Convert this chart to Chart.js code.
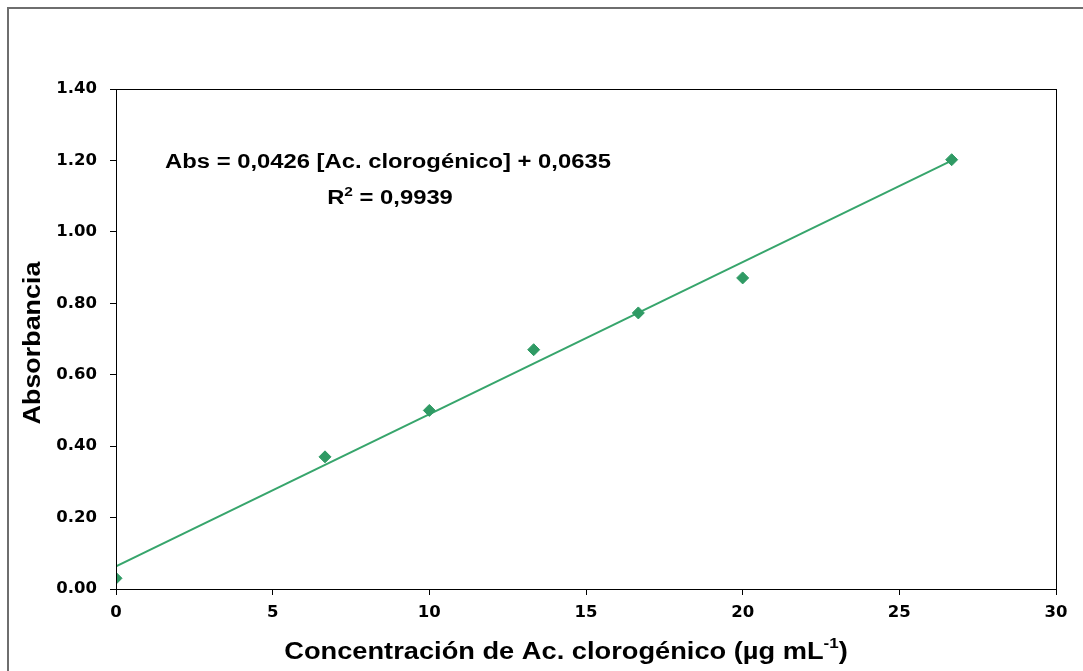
<!DOCTYPE html>
<html>
<head>
<meta charset="utf-8">
<script src="https://cdn.jsdelivr.net/npm/chart.js@4/dist/chart.umd.min.js"></script>
<style>
  html, body { margin: 0; padding: 0; background: #fff; }
  #wrap { position: relative; width: 1083px; height: 671px; }
</style>
</head>
<body>
<div id="wrap"><canvas id="c"></canvas></div>
<script>
// Calibration standards: chlorogenic acid concentration (µg/mL) vs absorbance
const concentracion = [0, 6.67, 10, 13.33, 16.67, 20, 26.67];
const absorbancia   = [0.03, 0.37, 0.50, 0.67, 0.773, 0.871, 1.202];

// Linear fit reported on the chart
const pendiente = 0.0426;
const intercepto = 0.0635;
const r2 = '0,9939';
const rangoAjuste = [0, 26.67];

const tickY = [0, 0.2, 0.4, 0.6, 0.8, 1.0, 1.2, 1.4];
const tickX = [0, 5, 10, 15, 20, 25, 30];

const verde = '#2f9a64';
const FONT = '"Liberation Sans", Arial, sans-serif';
const TICK_FONT = '"DejaVu Sans", sans-serif';

const puntos = concentracion.map((x, i) => ({ x, y: absorbancia[i] }));
const ajuste = rangoAjuste.map(x => ({ x, y: pendiente * x + intercepto }));

// Text drawn with a horizontal stretch factor (wide bold headings)
function textoAncho(ctx, txt, x, y, sx) {
  ctx.save();
  ctx.translate(x, y);
  ctx.scale(sx, 1);
  ctx.fillText(txt, 0, 0);
  ctx.restore();
}

// Draws segments [{t, size, dy}] as one centred run with horizontal stretch
function linea(ctx, partes, cx, y, sx) {
  let total = 0;
  const anchos = partes.map(p => {
    ctx.font = 'bold ' + p.size + 'px ' + FONT;
    const w = ctx.measureText(p.t).width * sx;
    total += w;
    return w;
  });
  let x = cx - total / 2;
  ctx.textAlign = 'left';
  ctx.textBaseline = 'alphabetic';
  partes.forEach((p, i) => {
    ctx.font = 'bold ' + p.size + 'px ' + FONT;
    textoAncho(ctx, p.t, x, y + (p.dy || 0), sx);
    x += anchos[i];
  });
}

// Outer frame, plot box, axis titles and the regression equation
const decoraciones = {
  id: 'decoraciones',
  beforeDraw(chart) {
    const ctx = chart.ctx;
    ctx.save();
    ctx.strokeStyle = '#6e6e6e';
    ctx.lineWidth = 2;
    ctx.beginPath();
    ctx.moveTo(8, chart.height);
    ctx.lineTo(8, 8);
    ctx.lineTo(chart.width, 8);
    ctx.stroke();
    ctx.restore();
  },
  afterDraw(chart) {
    const ctx = chart.ctx;
    const a = chart.chartArea;
    ctx.save();
    ctx.strokeStyle = '#000';
    ctx.lineWidth = 1;
    ctx.strokeRect(a.left + 0.5, a.top + 0.5, a.right - a.left, a.bottom - a.top);

    ctx.fillStyle = '#000';
    // y axis title
    ctx.save();
    ctx.translate(33, 343);
    ctx.rotate(-Math.PI / 2);
    ctx.font = 'bold 24px ' + FONT;
    ctx.textAlign = 'center';
    ctx.textBaseline = 'middle';
    textoAncho(ctx, 'Absorbancia', 0, 0, 1.12);
    ctx.restore();

    // x axis title with superscript
    linea(ctx, [
      { t: 'Concentración de Ac. clorogénico (µg mL', size: 24 },
      { t: '-1', size: 15, dy: -11 },
      { t: ')', size: 24 }
    ], 566, 659, 1.135);

    // regression equation
    const fmt = v => String(v).replace('.', ',');
    linea(ctx, [
      { t: 'Abs = ' + fmt(pendiente) + ' [Ac. clorogénico] + ' + fmt(intercepto), size: 20 }
    ], 388, 168, 1.19);
    linea(ctx, [
      { t: 'R', size: 20 },
      { t: '2', size: 13, dy: -8 },
      { t: ' = ' + r2, size: 20 }
    ], 390, 204, 1.19);
    ctx.restore();
  }
};

new Chart(document.getElementById('c'), {
  type: 'scatter',
  data: {
    datasets: [
      {
        label: 'Ajuste lineal',
        data: ajuste,
        showLine: true,
        borderColor: '#37a56c',
        borderWidth: 2,
        pointRadius: 0,
        order: 2
      },
      {
        label: 'Absorbancia',
        data: puntos,
        pointStyle: 'rectRot',
        pointRadius: 6,
        pointBackgroundColor: verde,
        pointBorderColor: verde,
        order: 1
      }
    ]
  },
  options: {
    responsive: true,
    maintainAspectRatio: false,
    animation: false,
    layout: { padding: { left: 0, top: 89, right: 27, bottom: 0 } },
    plugins: { legend: { display: false }, tooltip: { enabled: false } },
    scales: {
      x: {
        type: 'linear',
        min: 0, max: 30,
        afterBuildTicks(s) { s.ticks = tickX.map(v => ({ value: v })); },
        afterFit(s) { s.height = 82; },
        grid: { drawOnChartArea: false, drawTicks: true, tickLength: 6, color: '#000' },
        border: { display: true, color: '#000', width: 1 },
        ticks: { color: '#000', padding: 8, font: { family: TICK_FONT, size: 16.5, weight: 'bold' },
                 callback: v => String(v) }
      },
      y: {
        type: 'linear',
        min: 0, max: 1.4,
        afterBuildTicks(s) { s.ticks = tickY.map(v => ({ value: v })); },
        afterFit(s) { s.width = 116; },
        grid: { drawOnChartArea: false, drawTicks: true, tickLength: 6, color: '#000' },
        border: { display: true, color: '#000', width: 1 },
        ticks: { color: '#000', padding: 13, font: { family: TICK_FONT, size: 16.5, weight: 'bold' },
                 callback: v => v.toFixed(2) }
      }
    }
  },
  plugins: [decoraciones]
});
</script>
</body>
</html>
